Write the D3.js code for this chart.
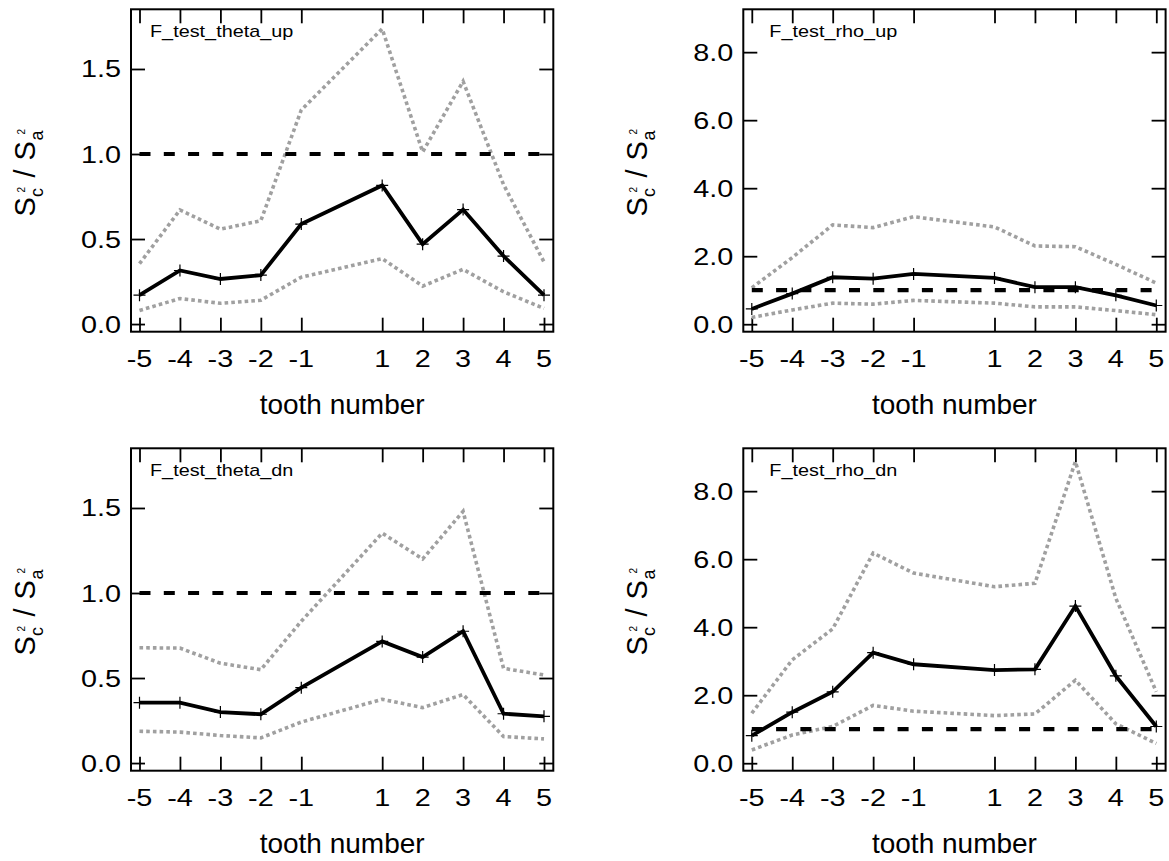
<!DOCTYPE html>
<html>
<head>
<meta charset="utf-8">
<script src="https://cdn.jsdelivr.net/npm/d3@7"></script>
<style>
	body { margin: 0; background: #fff; }
	svg { display: block; font-family: "Liberation Sans", Arial, sans-serif; }
</style>
</head>
<body>
<div id="chart"></div>
<script>
"use strict";

//---- Data
const teeth = [-5, -4, -3, -2, -1, 1, 2, 3, 4, 5];
const refLevel = [1, 1, 1, 1, 1, 1, 1, 1, 1, 1];

const thetaUpMean = [0.17, 0.315, 0.265, 0.288, 0.588, 0.815, 0.47, 0.673, 0.40, 0.17];
const thetaUpHi = [0.355, 0.671, 0.558, 0.608, 1.259, 1.736, 1.012, 1.427, 0.82, 0.365];
const thetaUpLo = [0.08, 0.15, 0.122, 0.14, 0.276, 0.385, 0.223, 0.322, 0.19, 0.092];

const rhoUpMean = [0.45, 0.9, 1.38, 1.34, 1.48, 1.36, 1.09, 1.09, 0.85, 0.55];
const rhoUpHi = [1.07, 1.96, 2.92, 2.84, 3.16, 2.86, 2.30, 2.28, 1.76, 1.21];
const rhoUpLo = [0.2, 0.42, 0.62, 0.59, 0.70, 0.62, 0.51, 0.51, 0.40, 0.28];

const thetaDnMean = [0.355, 0.355, 0.30, 0.287, 0.443, 0.715, 0.623, 0.775, 0.29, 0.275];
const thetaDnHi = [0.678, 0.676, 0.587, 0.549, 0.834, 1.352, 1.20, 1.48, 0.557, 0.518];
const thetaDnLo = [0.187, 0.182, 0.162, 0.148, 0.241, 0.375, 0.326, 0.403, 0.156, 0.142];

const rhoDnMean = [0.81, 1.50, 2.10, 3.25, 2.91, 2.74, 2.76, 4.62, 2.57, 1.08];
const rhoDnHi = [1.47, 3.04, 3.95, 6.18, 5.59, 5.19, 5.29, 8.87, 4.85, 2.10];
const rhoDnLo = [0.39, 0.83, 1.08, 1.70, 1.53, 1.40, 1.45, 2.44, 1.16, 0.58];

const thetaTicks = [0, 0.5, 1.0, 1.5];
const rhoTicks = [0, 2, 4, 6, 8];

const panelNames = ['F_test_theta_up', 'F_test_rho_up', 'F_test_theta_dn', 'F_test_rho_dn'];
const xTitle = 'tooth number';


//---- Layout
const width = 1169, height = 861;
const plotW = 422.3, plotH = 322.4;
const lefts = [131, 743.3];
const tops = [9.3, 448.3];
const textStretch = 1.2;

const panels = [
	{ name: panelNames[0], col: 0, row: 0, mean: thetaUpMean, hi: thetaUpHi, lo: thetaUpLo, ticks: thetaTicks, yDomain: [-0.045, 1.851], titleDx: 19 },
	{ name: panelNames[1], col: 1, row: 0, mean: rhoUpMean, hi: rhoUpHi, lo: rhoUpLo, ticks: rhoTicks, yDomain: [-0.22, 9.26], titleDx: 26 },
	{ name: panelNames[2], col: 0, row: 1, mean: thetaDnMean, hi: thetaDnHi, lo: thetaDnLo, ticks: thetaTicks, yDomain: [-0.045, 1.851], titleDx: 19 },
	{ name: panelNames[3], col: 1, row: 1, mean: rhoDnMean, hi: rhoDnHi, lo: rhoDnLo, ticks: rhoTicks, yDomain: [-0.22, 9.26], titleDx: 26 }
];

const svg = d3.select('#chart').append('svg')
	.attr('width', width)
	.attr('height', height)
	.attr('viewBox', [0, 0, width, height]);


//---- Panels
panels.forEach(p => {
	const g = svg.append('g')
		.attr('transform', `translate(${lefts[p.col]},${tops[p.row]})`);

	const x = d3.scaleLinear().domain([-5.21, 5.23]).range([0, plotW]);
	const y = d3.scaleLinear().domain(p.yDomain).range([plotH, 0]);

	// inward ticks on all four sides
	const axes = [
		[d3.axisBottom(x).tickValues(teeth), `translate(0,${plotH})`],
		[d3.axisTop(x).tickValues(teeth), 'translate(0,0)'],
		[d3.axisLeft(y).tickValues(p.ticks), 'translate(0,0)'],
		[d3.axisRight(y).tickValues(p.ticks), `translate(${plotW},0)`]
	];
	axes.forEach(([axis, tr]) => {
		const a = g.append('g')
			.attr('transform', tr)
			.call(axis.tickSizeInner(-14).tickSizeOuter(0).tickFormat(''));
		a.select('.domain').remove();
		a.selectAll('line').attr('stroke', '#000').attr('stroke-width', 1.8);
	});

	g.append('rect')
		.attr('width', plotW)
		.attr('height', plotH)
		.attr('fill', 'none')
		.attr('stroke', '#000')
		.attr('stroke-width', 2);

	const line = d3.line()
		.x((d, i) => x(teeth[i]))
		.y(d => y(d));

	[p.hi, p.lo].forEach(series => {
		g.append('path')
			.datum(series)
			.attr('d', line)
			.attr('fill', 'none')
			.attr('stroke', '#a0a0a0')
			.attr('stroke-width', 3.6)
			.attr('stroke-dasharray', '3.6 3.1');
	});

	g.append('path')
		.datum(refLevel)
		.attr('d', line)
		.attr('fill', 'none')
		.attr('stroke', '#000')
		.attr('stroke-width', 4.2)
		.attr('stroke-dasharray', '11 13.3');

	g.append('path')
		.datum(p.mean)
		.attr('d', line)
		.attr('fill', 'none')
		.attr('stroke', '#000')
		.attr('stroke-width', 3.8)
		.attr('stroke-linejoin', 'miter');

	g.selectAll('.marker')
		.data(p.mean)
		.join('path')
		.classed('marker', true)
		.attr('transform', (d, i) => `translate(${x(teeth[i])},${y(d)})`)
		.attr('d', 'M-6,0H6M0,-6V6')
		.attr('stroke', '#000')
		.attr('stroke-width', 1.2);

	// tick labels
	g.selectAll('.xlab')
		.data(teeth)
		.join('text')
		.classed('xlab', true)
		.attr('transform', d => `translate(${x(d)},${plotH + 35.5}) scale(${textStretch},1)`)
		.attr('text-anchor', 'middle')
		.attr('font-size', 24)
		.text(d => d);

	g.selectAll('.ylab')
		.data(p.ticks)
		.join('text')
		.classed('ylab', true)
		.attr('transform', d => `translate(-10,${y(d) + 8.5}) scale(${textStretch},1)`)
		.attr('text-anchor', 'end')
		.attr('font-size', 24)
		.text(d => d3.format('.1f')(d));

	g.append('text')
		.attr('transform', `translate(${p.titleDx},27.5) scale(1.24,1)`)
		.attr('font-size', 16)
		.text(p.name);

	g.append('text')
		.attr('x', plotW / 2)
		.attr('y', plotH + 82)
		.attr('text-anchor', 'middle')
		.attr('font-size', 28)
		.text(xTitle);

	// y title: S_c^2 / S_a^2, sub and super stacked
	const yt = g.append('g')
		.attr('transform', `translate(-96,${plotH / 2}) rotate(-90) translate(-46,0)`);
	const pieces = [
		{ t: 'S', dx: 0, dy: 0, s: 29 },
		{ t: 'c', dx: 19.5, dy: 8, s: 18 },
		{ t: '2', dx: 24, dy: -10, s: 10 },
		{ t: '/', dx: 39, dy: 0, s: 29 },
		{ t: 'S', dx: 56, dy: 0, s: 29 },
		{ t: 'a', dx: 76, dy: 8, s: 18 },
		{ t: '2', dx: 82, dy: -10, s: 10 }
	];
	yt.selectAll('text')
		.data(pieces)
		.join('text')
		.attr('x', d => d.dx)
		.attr('y', d => d.dy)
		.attr('font-size', d => d.s)
		.text(d => d.t);
});
</script>
</body>
</html>
